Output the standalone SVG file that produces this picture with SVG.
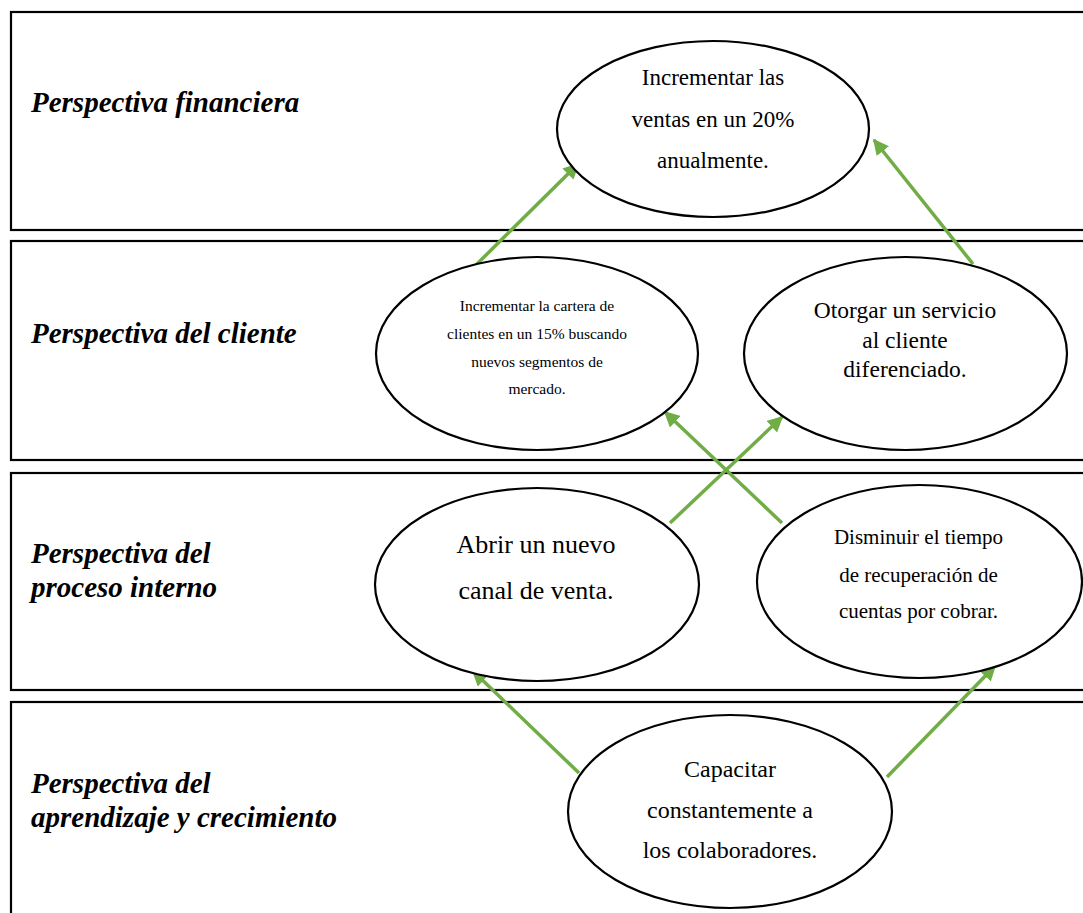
<svg xmlns="http://www.w3.org/2000/svg" width="1083" height="913" viewBox="0 0 1083 913">
<style>
.band{fill:#fff;stroke:#000;stroke-width:2.2}
.lbl{font-family:"Liberation Serif","Times New Roman",serif;font-weight:bold;font-style:italic;font-size:29px;fill:#000}
.node ellipse{fill:#fff;stroke:#000;stroke-width:2.2}
.t{font-family:"Liberation Serif","Times New Roman",serif;fill:#000;text-anchor:middle}
.conn line{stroke:#70AD47;stroke-width:3.5;marker-end:url(#ah)}
</style>
<defs>
<marker id="ah" viewBox="0 0 10 10" refX="9" refY="5" markerWidth="4.5" markerHeight="4.5" orient="auto" markerUnits="strokeWidth">
<path d="M0,0 L10,5 L0,10 z" fill="#70AD47"/>
</marker>
</defs>
<rect width="1083" height="913" fill="#fff"/>
<g id="bands">
<rect class="band" x="11" y="12" width="1100" height="218"/>
<rect class="band" x="11" y="241" width="1100" height="219"/>
<rect class="band" x="11" y="473" width="1100" height="217"/>
<rect class="band" x="11" y="702" width="1100" height="240"/>
<text class="lbl" x="31" y="112">Perspectiva financiera</text>
<text class="lbl" x="31" y="343">Perspectiva del cliente</text>
<text class="lbl" x="31" y="563">Perspectiva del</text>
<text class="lbl" x="31" y="597">proceso interno</text>
<text class="lbl" x="31" y="793">Perspectiva del</text>
<text class="lbl" x="31" y="827">aprendizaje y crecimiento</text>
</g>
<g class="conn" id="connectors">
<line x1="477" y1="264" x2="578" y2="164"/>
<line x1="973" y1="264" x2="874" y2="140"/>
<line x1="670" y1="523" x2="782" y2="417"/>
<line x1="782" y1="523" x2="665" y2="412"/>
<line x1="579" y1="773" x2="473" y2="671"/>
<line x1="887" y1="777" x2="995" y2="666"/>
</g>
<g class="node" id="n1">
<ellipse cx="713" cy="129" rx="156" ry="88"/>
<text class="t" font-size="23" x="713" y="85">Incrementar las</text>
<text class="t" font-size="23" x="713" y="127">ventas en un 20%</text>
<text class="t" font-size="23" x="713" y="168">anualmente.</text>
</g>
<g class="node" id="n2">
<ellipse cx="537" cy="353.5" rx="161" ry="96.5"/>
<text class="t" font-size="15.5" x="537" y="311">Incrementar la cartera de</text>
<text class="t" font-size="15.5" x="537" y="339">clientes en un 15%  buscando</text>
<text class="t" font-size="15.5" x="537" y="367">nuevos segmentos de</text>
<text class="t" font-size="15.5" x="537" y="394">mercado.</text>
</g>
<g class="node" id="n3">
<ellipse cx="905.5" cy="353.5" rx="161.5" ry="96.5"/>
<text class="t" font-size="23.5" x="905" y="318">Otorgar un servicio</text>
<text class="t" font-size="23.5" x="905" y="348">al cliente</text>
<text class="t" font-size="23.5" x="905" y="377">diferenciado.</text>
</g>
<g class="node" id="n4">
<ellipse cx="537" cy="584.5" rx="162" ry="96.5"/>
<text class="t" font-size="26" x="536" y="553">Abrir un nuevo</text>
<text class="t" font-size="26" x="536" y="599">canal de venta.</text>
</g>
<g class="node" id="n5">
<ellipse cx="919.5" cy="581.5" rx="162.5" ry="96.5"/>
<text class="t" font-size="21" x="918.5" y="544">Disminuir el tiempo</text>
<text class="t" font-size="21" x="918.5" y="582">de recuperación de</text>
<text class="t" font-size="21" x="918.5" y="618">cuentas por cobrar.</text>
</g>
<g class="node" id="n6">
<ellipse cx="730" cy="811.5" rx="162" ry="96.5"/>
<text class="t" font-size="24" x="730" y="777">Capacitar</text>
<text class="t" font-size="24" x="730" y="818">constantemente a</text>
<text class="t" font-size="24" x="730" y="858">los colaboradores.</text>
</g>
</svg>
